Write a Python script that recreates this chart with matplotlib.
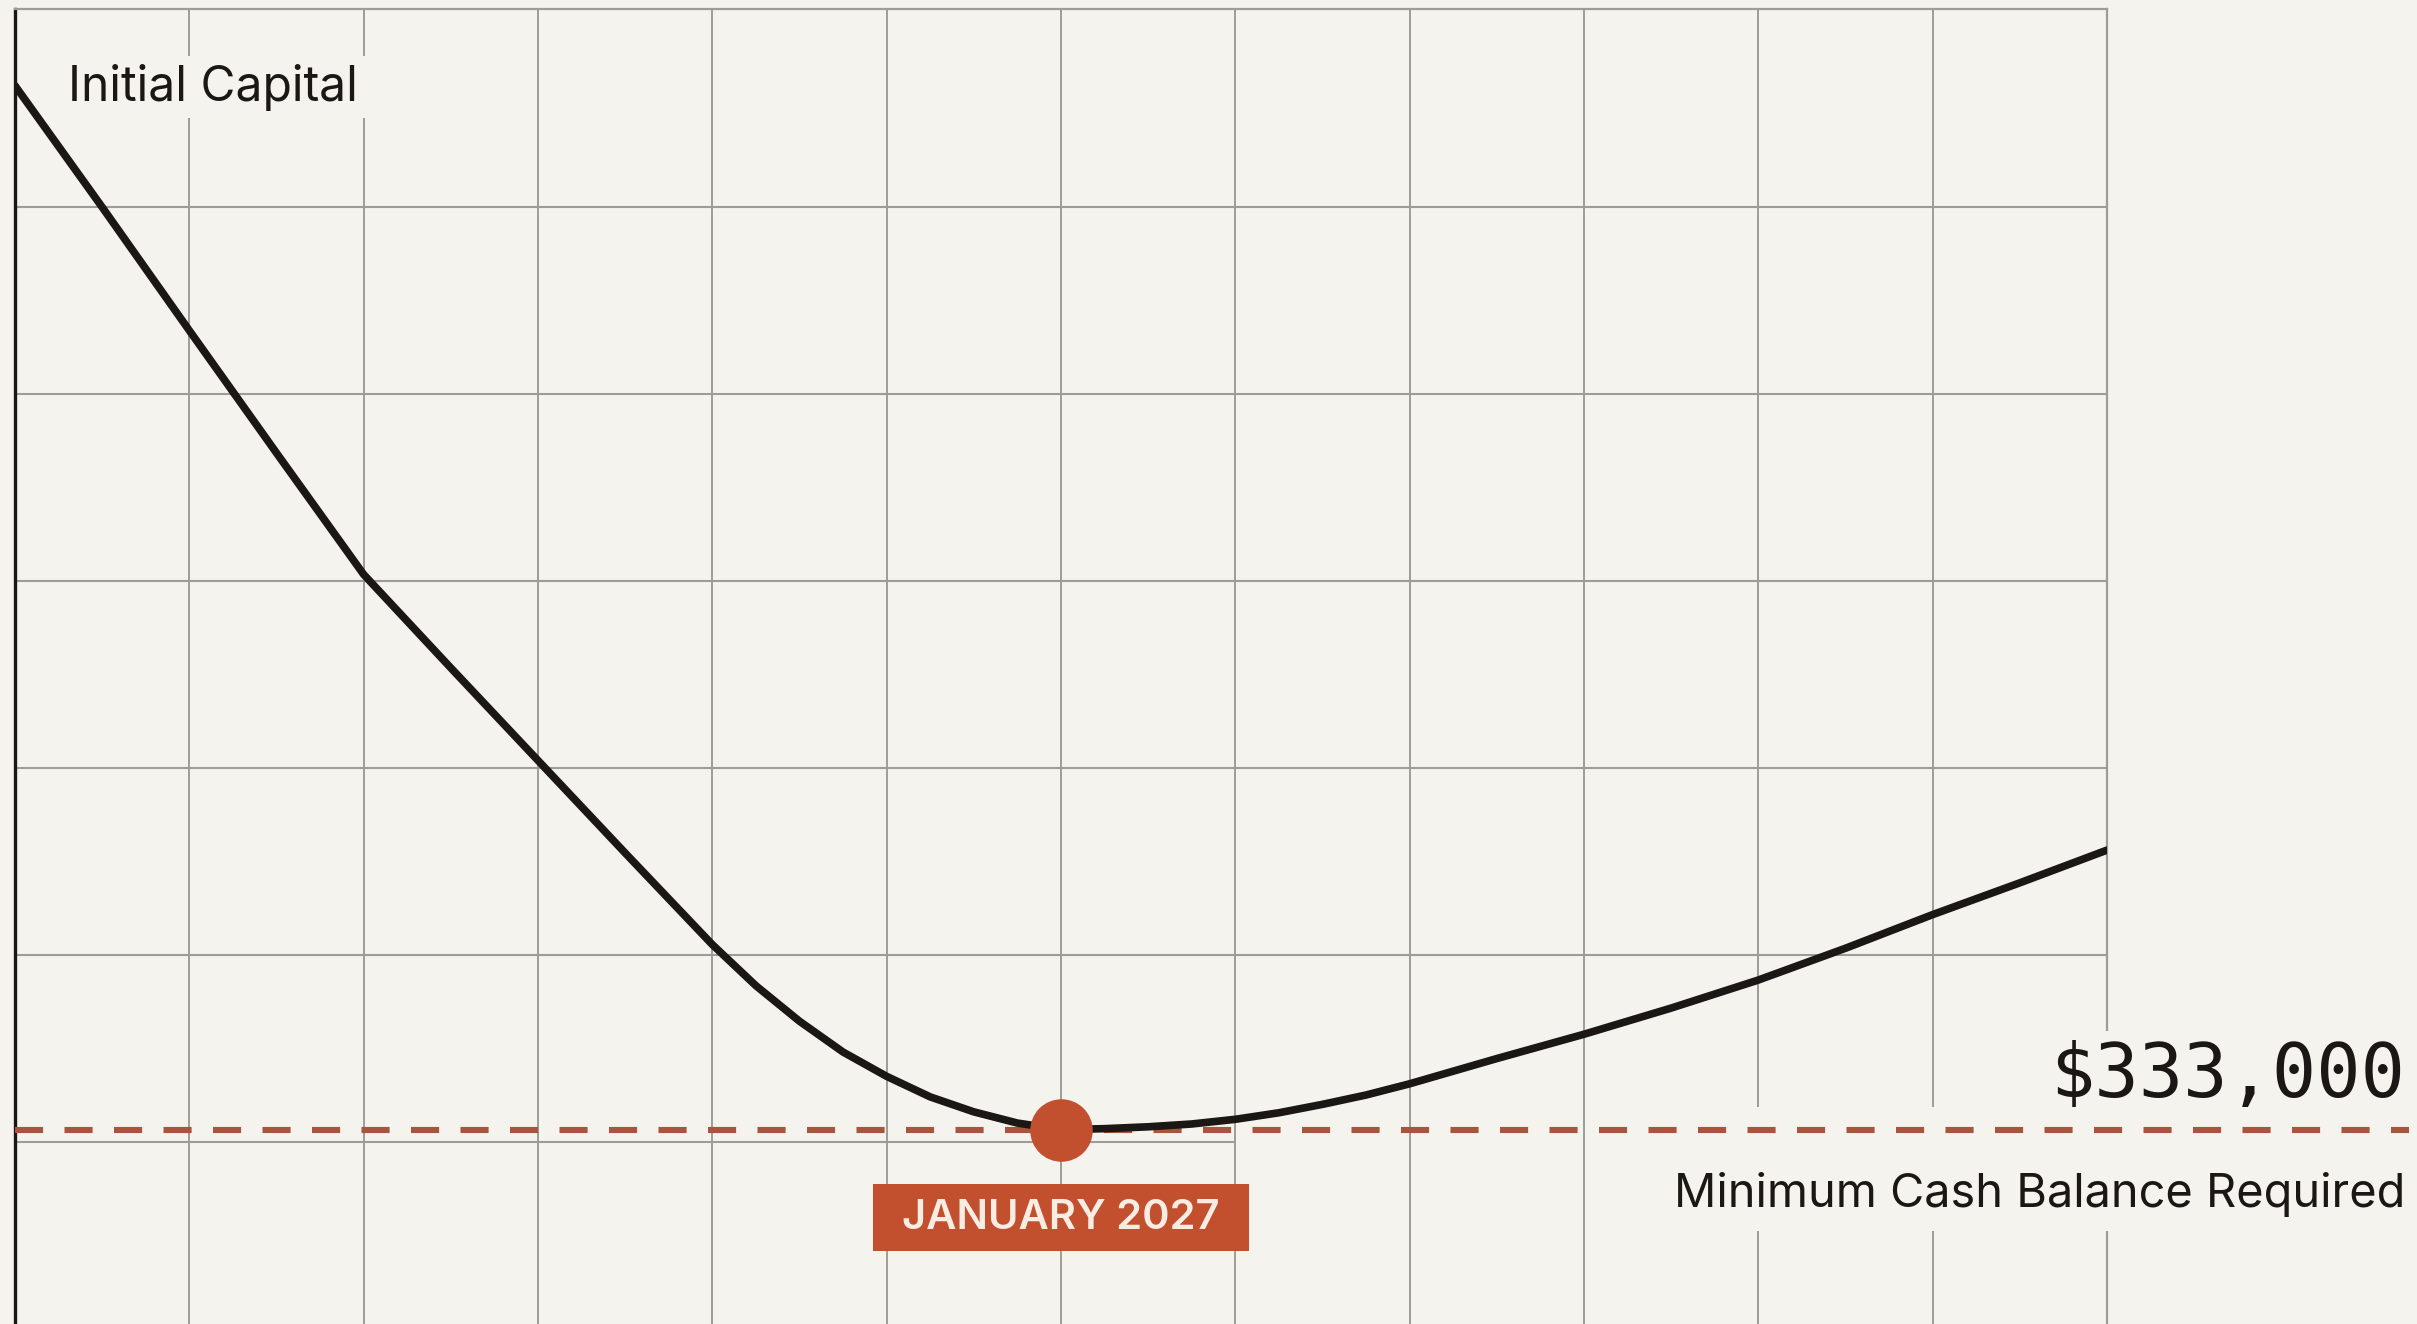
import matplotlib
matplotlib.use("Agg")
import matplotlib.pyplot as plt
from matplotlib.transforms import blended_transform_factory
import numpy as np

# cash balance in $K (month index 0 = start, 6 = January 2027)
MONTH_IDX = [0, 0.5, 1, 1.5, 2, 2.5, 3, 3.5,
             3.75, 4, 4.25, 4.5, 4.75, 5,
             5.25, 5.5, 5.75, 6,
             6.25, 6.5, 6.75, 7,
             7.25, 7.5, 7.75, 8,
             8.5, 9, 9.5, 10, 10.5, 11, 11.5, 12]
BALANCE_K = [1450, 1320, 1188, 1057, 927, 827, 728, 629,
             580, 531, 487, 449, 416, 390,
             368, 352, 340, 333,
             334, 336, 339, 344,
             351, 360, 370, 382,
             409, 435, 463, 493, 527, 563, 597, 632]

MIN_CASH_K = 333
MIN_MONTH = 6
MIN_LABEL = "JANUARY 2027"
MIN_VALUE_TEXT = "$333,000"
MIN_CAPTION = "Minimum Cash Balance Required"
START_CAPTION = "Initial Capital"

# grid
X_TICKS = np.arange(0, 13, 1)
Y_TICKS = np.arange(320, 1321, 200)

BG = "#f4f3ee"
GRID = "#9c9c99"
INK = "#1b1714"
RUST = "#c2502f"
DASH = "#a8553f"

fig = plt.figure(figsize=(24.17, 13.24), dpi=100, facecolor=BG)
ax = fig.add_axes([0.0062, 0.0, 0.8655, 0.9932])
ax.set_facecolor(BG)
ax.set_xlim(0, 12)
ax.set_ylim(125, 1532)
ax.set_xticks(X_TICKS)
ax.set_yticks(Y_TICKS)
ax.set_axisbelow(True)
ax.grid(True, axis="x", color=GRID, lw=1.4)
# horizontal grid; the lowest line stops one step past the low point
for y in Y_TICKS:
    x_end = MIN_MONTH + 1 if y == Y_TICKS[0] else X_TICKS[-1]
    ax.hlines(y, X_TICKS[0], x_end, color=GRID, lw=1.5, zorder=0.5)
ax.tick_params(length=0, labelbottom=False, labelleft=False)
for s in ("top", "right"):
    ax.spines[s].set_color(GRID)
    ax.spines[s].set_linewidth(1.6)
ax.spines["bottom"].set_visible(False)
ax.spines["left"].set_color(INK)
ax.spines["left"].set_linewidth(2.4)

# dashed minimum line, runs out past the plot to the right edge
trans = blended_transform_factory(fig.transFigure, ax.transData)
x0 = ax.get_position().x0
ax.plot([x0, 0.9965], [MIN_CASH_K, MIN_CASH_K], transform=trans,
        color=DASH, lw=4.4, dashes=(4.6, 3.5), clip_on=False, zorder=4)

# balance curve
ax.plot(MONTH_IDX, BALANCE_K, color=INK, lw=5.5, solid_capstyle="round",
        solid_joinstyle="round", zorder=5)

# low point
ax.plot(MIN_MONTH, MIN_CASH_K, "o", ms=44, color=RUST, zorder=6)
ax.annotate(MIN_LABEL, xy=(MIN_MONTH, MIN_CASH_K), xytext=(0, -88),
            textcoords="offset pixels", ha="center", va="center",
            fontsize=30, family="Inter", fontweight="semibold", color="#f8ece3",
            bbox=dict(boxstyle="square,pad=0.7", mutation_aspect=0.5,
                      fc=RUST, ec="none"), zorder=7)

# right side annotations
ax.annotate(MIN_VALUE_TEXT, xy=(0.995, MIN_CASH_K), xycoords=trans,
            xytext=(0, 33), textcoords="offset pixels", ha="right", va="baseline",
            fontsize=53, family="DejaVu Sans Mono", color=INK,
            bbox=dict(boxstyle="square,pad=0.12", fc=BG, ec="none"), zorder=3,
            annotation_clip=False)
ax.annotate("\n" + MIN_CAPTION, xy=(0.995, MIN_CASH_K), xycoords=trans,
            xytext=(0, -87), textcoords="offset pixels", ha="right", va="bottom",
            fontsize=33.8, family="Inter", color=INK,
            bbox=dict(boxstyle="square,pad=0.3", fc=BG, ec="none"), zorder=3,
            annotation_clip=False)

# start label
ax.annotate(START_CAPTION, xy=(MONTH_IDX[0], BALANCE_K[0]), xytext=(53, -15),
            textcoords="offset pixels", ha="left", va="baseline",
            fontsize=34.5, family="Inter", color=INK,
            bbox=dict(boxstyle="square,pad=0.15", fc=BG, ec="none"), zorder=3)

fig.savefig("out.png", dpi=100, facecolor=BG)
